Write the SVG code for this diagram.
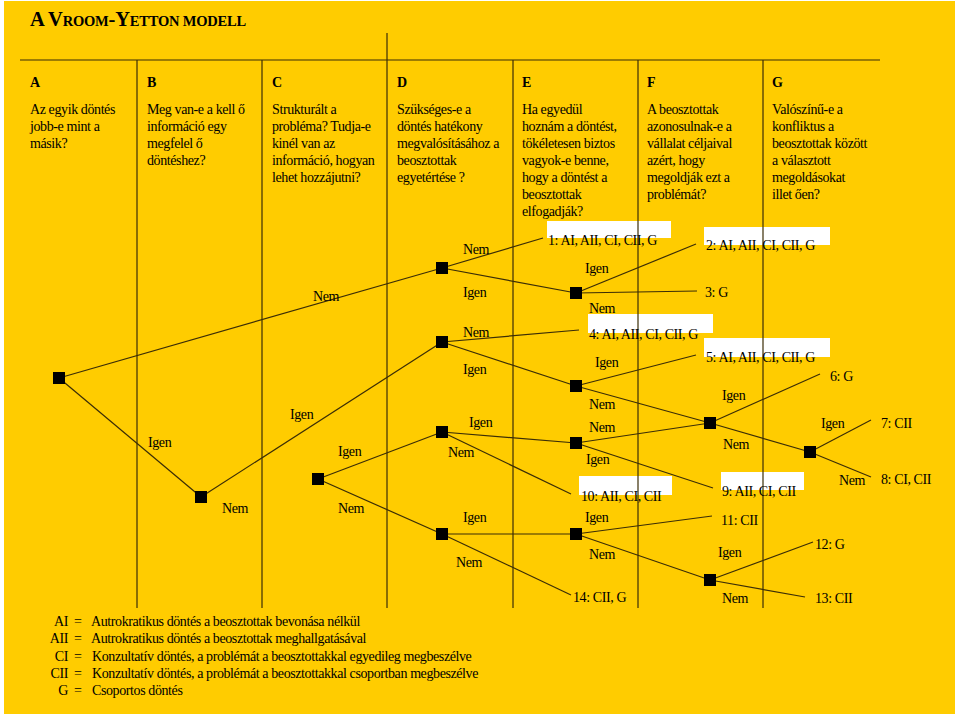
<svg xmlns="http://www.w3.org/2000/svg" width="960" height="716" viewBox="0 0 960 716">
<style>
text{font-family:"Liberation Serif","Times New Roman",serif;font-size:14px;fill:#000;letter-spacing:-0.4px}
.title{font-weight:bold;font-size:20.5px;letter-spacing:-0.2px}
.sc{font-size:14.5px}
.hd{font-weight:bold;letter-spacing:0}
.grid{stroke:#3b2d06;stroke-width:1.2;fill:none}
.cn line{stroke:#3b2d06;stroke-width:1.2}
.nd{fill:#000}
.wb{fill:#fff}
</style>
<rect x="0" y="0" width="960" height="716" fill="#fff"/>
<rect x="4" y="1" width="951" height="713" fill="#FFCC00"/>
<text class="title" x="30" y="26">A V<tspan class="sc">ROOM</tspan>-Y<tspan class="sc">ETTON MODELL</tspan></text>

<!-- white label boxes -->
<g id="boxes">
<rect class="wb" x="547" y="221" width="124" height="17"/>
<rect class="wb" x="704" y="227" width="126" height="18"/>
<rect class="wb" x="588" y="314" width="125" height="19"/>
<rect class="wb" x="704" y="338" width="126" height="19"/>
<rect class="wb" x="579" y="476" width="93" height="19"/>
<rect class="wb" x="721" y="472" width="83" height="18"/>
</g>

<!-- grid -->
<g id="grid" class="grid">
<line x1="20" y1="60" x2="880" y2="60"/>
<line x1="137" y1="60" x2="137" y2="608"/>
<line x1="262" y1="60" x2="262" y2="608"/>
<line x1="387" y1="33" x2="387" y2="608"/>
<line x1="513" y1="60" x2="513" y2="608"/>
<line x1="638" y1="60" x2="638" y2="608"/>
<line x1="763" y1="60" x2="763" y2="608"/>
</g>

<!-- column headers -->
<g id="headers">
<text class="hd" x="30" y="87">A</text>
<text class="hd" x="147" y="87">B</text>
<text class="hd" x="272" y="87">C</text>
<text class="hd" x="397" y="87">D</text>
<text class="hd" x="522" y="87">E</text>
<text class="hd" x="647" y="87">F</text>
<text class="hd" x="772" y="87">G</text>
<text x="30" y="114">Az egyik döntés</text>
<text x="30" y="131">jobb-e mint a</text>
<text x="30" y="148">másik?</text>
<text x="147" y="114">Meg van-e a kell<tspan dx="3">ő</tspan></text>
<text x="147" y="131">információ egy</text>
<text x="147" y="148">megfelel<tspan dx="3">ő</tspan></text>
<text x="147" y="165">döntéshez?</text>
<text x="272" y="114">Strukturált a</text>
<text x="272" y="131">probléma? Tudja-e</text>
<text x="272" y="148">kinél van az</text>
<text x="272" y="165">információ, hogyan</text>
<text x="272" y="182">lehet hozzájutni?</text>
<text x="397" y="114">Szükséges-e a</text>
<text x="397" y="131">döntés hatékony</text>
<text x="397" y="148">megvalósításához a</text>
<text x="397" y="165">beosztottak</text>
<text x="397" y="182">egyetértése ?</text>
<text x="522" y="114">Ha egyedül</text>
<text x="522" y="131">hoznám a döntést,</text>
<text x="522" y="148">tökéletesen biztos</text>
<text x="522" y="165">vagyok-e benne,</text>
<text x="522" y="182">hogy a döntést a</text>
<text x="522" y="199">beosztottak</text>
<text x="522" y="216">elfogadják?</text>
<text x="647" y="114">A beosztottak</text>
<text x="647" y="131">azonosulnak-e a</text>
<text x="647" y="148">vállalat céljaival</text>
<text x="647" y="165">azért, hogy</text>
<text x="647" y="182">megoldják ezt a</text>
<text x="647" y="199">problémát?</text>
<text x="772" y="114">Valószínű-e a</text>
<text x="772" y="131">konfliktus a</text>
<text x="772" y="148">beosztottak között</text>
<text x="772" y="165">a választott</text>
<text x="772" y="182">megoldásokat</text>
<text x="772" y="199">illet<tspan dx="3">ő</tspan>en?</text>
</g>

<!-- connectors -->
<g id="connectors" class="cn">
<line x1="59" y1="378" x2="442" y2="268"/>
<line x1="59" y1="378" x2="201" y2="497"/>
<line x1="201" y1="497" x2="442" y2="342"/>
<line x1="318" y1="479" x2="442" y2="432"/>
<line x1="318" y1="479" x2="442" y2="534"/>
<line x1="442" y1="268" x2="543" y2="238"/>
<line x1="442" y1="268" x2="576" y2="293"/>
<line x1="442" y1="342" x2="579" y2="330"/>
<line x1="442" y1="342" x2="576" y2="386"/>
<line x1="442" y1="432" x2="576" y2="443"/>
<line x1="442" y1="432" x2="571" y2="494"/>
<line x1="442" y1="534" x2="576" y2="534"/>
<line x1="442" y1="534" x2="571" y2="595"/>
<line x1="576" y1="293" x2="696" y2="244"/>
<line x1="576" y1="293" x2="697" y2="291"/>
<line x1="576" y1="386" x2="696" y2="355"/>
<line x1="576" y1="386" x2="710" y2="423"/>
<line x1="576" y1="443" x2="710" y2="423"/>
<line x1="576" y1="443" x2="713" y2="488"/>
<line x1="576" y1="534" x2="712" y2="516"/>
<line x1="576" y1="534" x2="710" y2="580"/>
<line x1="710" y1="423" x2="820" y2="374"/>
<line x1="710" y1="423" x2="810" y2="452"/>
<line x1="810" y1="452" x2="871" y2="420"/>
<line x1="810" y1="452" x2="871" y2="477"/>
<line x1="710" y1="580" x2="813" y2="542"/>
<line x1="710" y1="580" x2="805" y2="597"/>
</g>

<!-- decision nodes -->
<g id="nA"><rect class="nd" x="53" y="372" width="12" height="12"/></g>
<g id="nB"><rect class="nd" x="195" y="491" width="12" height="12"/></g>
<g id="nC"><rect class="nd" x="312" y="473" width="12" height="12"/></g>
<g id="nD1"><rect class="nd" x="436" y="262" width="12" height="12"/></g>
<g id="nD2"><rect class="nd" x="436" y="336" width="12" height="12"/></g>
<g id="nD3"><rect class="nd" x="436" y="426" width="12" height="12"/></g>
<g id="nD4"><rect class="nd" x="436" y="528" width="12" height="12"/></g>
<g id="nE1"><rect class="nd" x="570" y="287" width="12" height="12"/></g>
<g id="nE2"><rect class="nd" x="570" y="380" width="12" height="12"/></g>
<g id="nE3"><rect class="nd" x="570" y="437" width="12" height="12"/></g>
<g id="nE4"><rect class="nd" x="570" y="528" width="12" height="12"/></g>
<g id="nF1"><rect class="nd" x="704" y="417" width="12" height="12"/></g>
<g id="nF2"><rect class="nd" x="704" y="574" width="12" height="12"/></g>
<g id="nG"><rect class="nd" x="804" y="446" width="12" height="12"/></g>

<!-- outcomes -->
<g id="r1"><text x="548" y="245">1: AI, AII, CI, CII, G</text></g>
<g id="r2"><text x="706" y="250">2: AI, AII, CI, CII, G</text></g>
<g id="r3"><text x="705" y="297">3: G</text></g>
<g id="r4"><text x="589" y="339">4: AI, AII, CI, CII, G</text></g>
<g id="r5"><text x="706" y="362">5: AI, AII, CI, CII, G</text></g>
<g id="r6"><text x="830" y="381">6: G</text></g>
<g id="r7"><text x="881" y="428">7: CII</text></g>
<g id="r8"><text x="881" y="484">8: CI, CII</text></g>
<g id="r9"><text x="722" y="496">9: AII, CI, CII</text></g>
<g id="r10"><text x="581" y="501">10: AII, CI, CII</text></g>
<g id="r11"><text x="721" y="525">11: CII</text></g>
<g id="r12"><text x="815" y="549">12: G</text></g>
<g id="r13"><text x="815" y="603">13: CII</text></g>
<g id="r14"><text x="573" y="602">14: CII, G</text></g>

<!-- branch labels -->
<g id="labels">
<text x="313" y="301">Nem</text>
<text x="148" y="447">Igen</text>
<text x="222" y="513">Nem</text>
<text x="290" y="419">Igen</text>
<text x="338" y="456">Igen</text>
<text x="338" y="513">Nem</text>
<text x="463" y="254">Nem</text>
<text x="463" y="297">Igen</text>
<text x="463" y="337">Nem</text>
<text x="463" y="374">Igen</text>
<text x="469" y="427">Igen</text>
<text x="448" y="457">Nem</text>
<text x="463" y="522">Igen</text>
<text x="456" y="567">Nem</text>
<text x="585" y="273">Igen</text>
<text x="589" y="313">Nem</text>
<text x="595" y="367">Igen</text>
<text x="589" y="409">Nem</text>
<text x="589" y="432">Nem</text>
<text x="586" y="464">Igen</text>
<text x="585" y="522">Igen</text>
<text x="589" y="559">Nem</text>
<text x="722" y="400">Igen</text>
<text x="723" y="449">Nem</text>
<text x="821" y="428">Igen</text>
<text x="839" y="485">Nem</text>
<text x="718" y="557">Igen</text>
<text x="722" y="603">Nem</text>
</g>

<!-- legend -->
<g id="legend">
<text x="68" y="626" text-anchor="end">AI</text>
<text x="74" y="626">=</text>
<text x="91" y="626">Autrokratikus döntés a beosztottak bevonása nélkül</text>
<text x="68" y="643" text-anchor="end">AII</text>
<text x="74" y="643">=</text>
<text x="91" y="643">Autrokratikus döntés a beosztottak meghallgatásával</text>
<text x="68" y="661" text-anchor="end">CI</text>
<text x="74" y="661">=</text>
<text x="92" y="661">Konzultatív döntés, a problémát a beosztottakkal egyedileg megbeszélve</text>
<text x="68" y="678" text-anchor="end">CII</text>
<text x="74" y="678">=</text>
<text x="92" y="678">Konzultatív döntés, a problémát a beosztottakkal csoportban megbeszélve</text>
<text x="68" y="695" text-anchor="end">G</text>
<text x="74" y="695">=</text>
<text x="92" y="695">Csoportos döntés</text>
</g>
</svg>
